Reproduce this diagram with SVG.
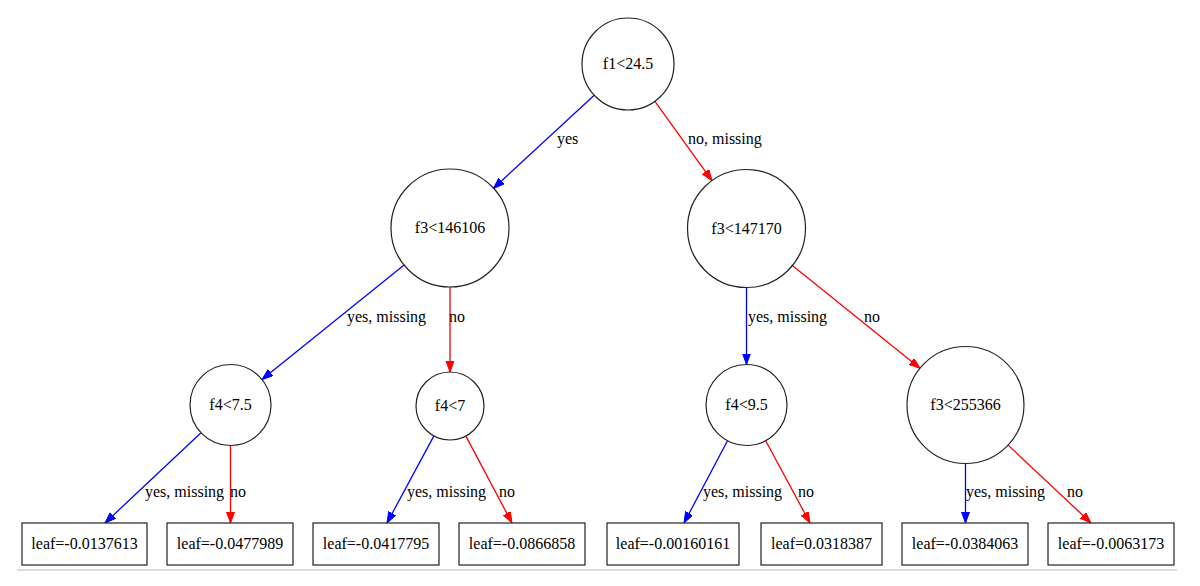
<svg xmlns="http://www.w3.org/2000/svg" width="1200" height="586" viewBox="0 0 1200 586">
<style>
text{font-family:"Liberation Serif","Times New Roman",serif;font-size:16px;fill:#000}
.c{text-anchor:middle}
.n{fill:#fff;stroke:#222;stroke-width:1.2}
.b{stroke:#0000ff;stroke-width:1.3;fill:none}
.r{stroke:#ff0000;stroke-width:1.3;fill:none}
</style>
<defs>
<marker id="ab" markerUnits="userSpaceOnUse" markerWidth="12" markerHeight="9" refX="11" refY="4" orient="auto"><path d="M0,0 L11,4 L0,8 z" fill="#0000ff" stroke="#0000ff" stroke-width="1"/></marker>
<marker id="ar" markerUnits="userSpaceOnUse" markerWidth="12" markerHeight="9" refX="11" refY="4" orient="auto"><path d="M0,0 L11,4 L0,8 z" fill="#ff0000" stroke="#ff0000" stroke-width="1"/></marker>
</defs>
<rect width="1200" height="586" fill="#fff"/>
<line x1="17" y1="570" x2="1177" y2="570" stroke="#cfcfcf" stroke-width="1.5"/>
<g id="connectors">
<line class="b" x1="594.2" y1="95.2" x2="493.4" y2="188.5" marker-end="url(#ab)"/>
<text x="557" y="144">yes</text>
<line class="r" x1="654.9" y1="101.3" x2="712" y2="180.6" marker-end="url(#ar)"/>
<text x="688" y="144">no, missing</text>
<line class="b" x1="404.1" y1="265" x2="262" y2="379.6" marker-end="url(#ab)"/>
<text x="347" y="322">yes, missing</text>
<line class="r" x1="450" y1="287" x2="450" y2="372" marker-end="url(#ar)"/>
<text x="449" y="322">no</text>
<line class="b" x1="746.5" y1="287.5" x2="746.5" y2="364.5" marker-end="url(#ab)"/>
<text x="748" y="322">yes, missing</text>
<line class="r" x1="792.4" y1="265.5" x2="920" y2="368.3" marker-end="url(#ar)"/>
<text x="864" y="322">no</text>
<line class="b" x1="201" y1="432.7" x2="105" y2="523" marker-end="url(#ab)"/>
<text x="145" y="497">yes, missing</text>
<line class="r" x1="230.5" y1="445.5" x2="230.5" y2="523" marker-end="url(#ar)"/>
<text x="230" y="497">no</text>
<line class="b" x1="433.9" y1="435.9" x2="387" y2="523" marker-end="url(#ab)"/>
<text x="407" y="497">yes, missing</text>
<line class="r" x1="465.9" y1="436.1" x2="512" y2="523" marker-end="url(#ar)"/>
<text x="499" y="497">no</text>
<line class="b" x1="727.5" y1="440.8" x2="684" y2="523" marker-end="url(#ab)"/>
<text x="703" y="497">yes, missing</text>
<line class="r" x1="765.7" y1="440.7" x2="810" y2="523" marker-end="url(#ar)"/>
<text x="798" y="497">no</text>
<line class="b" x1="965.5" y1="463.5" x2="965.5" y2="523" marker-end="url(#ab)"/>
<text x="966" y="497">yes, missing</text>
<line class="r" x1="1008.1" y1="445.1" x2="1091" y2="523" marker-end="url(#ar)"/>
<text x="1067" y="497">no</text>
</g>
<g id="n0"><circle class="n" cx="628" cy="64" r="46"/><text class="c" x="628" y="69">f1&lt;24.5</text></g>
<g id="n1"><circle class="n" cx="450" cy="228" r="59"/><text class="c" x="450" y="233">f3&lt;146106</text></g>
<g id="n2"><circle class="n" cx="746.5" cy="228.5" r="59"/><text class="c" x="746.5" y="233.5">f3&lt;147170</text></g>
<g id="n3"><circle class="n" cx="230.5" cy="405" r="40.5"/><text class="c" x="230.5" y="410">f4&lt;7.5</text></g>
<g id="n4"><circle class="n" cx="450" cy="406" r="34"/><text class="c" x="450" y="411">f4&lt;7</text></g>
<g id="n5"><circle class="n" cx="746.5" cy="405" r="40.5"/><text class="c" x="746.5" y="410">f4&lt;9.5</text></g>
<g id="n6"><circle class="n" cx="965.5" cy="405" r="58.5"/><text class="c" x="965.5" y="410">f3&lt;255366</text></g>
<g id="l1"><rect class="n" x="22" y="523" width="125" height="42"/><text class="c" x="84.5" y="549">leaf=-0.0137613</text></g>
<g id="l2"><rect class="n" x="167" y="523" width="126" height="42"/><text class="c" x="230" y="549">leaf=-0.0477989</text></g>
<g id="l3"><rect class="n" x="313" y="523" width="126" height="42"/><text class="c" x="376" y="549">leaf=-0.0417795</text></g>
<g id="l4"><rect class="n" x="459" y="523" width="126" height="42"/><text class="c" x="522" y="549">leaf=-0.0866858</text></g>
<g id="l5"><rect class="n" x="607" y="523" width="132" height="42"/><text class="c" x="673" y="549">leaf=-0.00160161</text></g>
<g id="l6"><rect class="n" x="761" y="523" width="121" height="42"/><text class="c" x="821.5" y="549">leaf=0.0318387</text></g>
<g id="l7"><rect class="n" x="902" y="523" width="126" height="42"/><text class="c" x="965" y="549">leaf=-0.0384063</text></g>
<g id="l8"><rect class="n" x="1048" y="523" width="126" height="42"/><text class="c" x="1111" y="549">leaf=-0.0063173</text></g>
</svg>
